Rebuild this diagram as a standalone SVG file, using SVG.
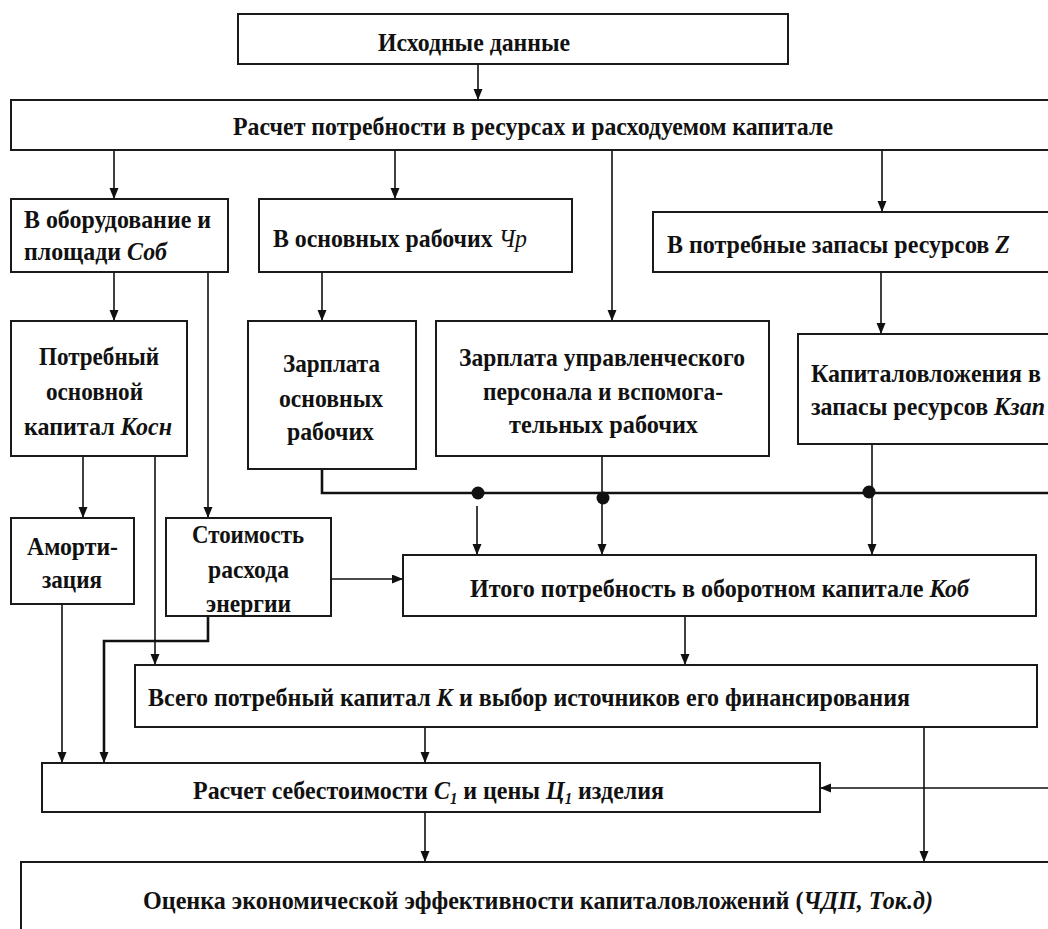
<svg xmlns="http://www.w3.org/2000/svg" width="1048" height="929" viewBox="0 0 1048 929">
<style>
.box{fill:#fff;stroke:#1a1a1a;stroke-width:2}
.t{font-family:"Liberation Serif","Times New Roman",serif;font-weight:bold;font-size:26px;fill:#111}
.i{font-style:italic}
.n{font-weight:normal}
.c{fill:none;stroke:#111;stroke-width:1.6}
.cb{fill:none;stroke:#111;stroke-width:2.6}
.dot{fill:#111}
</style>
<defs>
<marker id="ah" markerUnits="userSpaceOnUse" markerWidth="12" markerHeight="10" refX="11" refY="4.5" orient="auto">
<path d="M0,0 L11,4.5 L0,9 z" fill="#111"/>
</marker>
</defs>
<rect width="1048" height="929" fill="#fff"/>
<g id="connectors">
<line class="c" x1="478" y1="64" x2="478" y2="100" marker-end="url(#ah)"/>
<line class="c" x1="114" y1="150" x2="114" y2="199" marker-end="url(#ah)"/>
<line class="c" x1="395" y1="150" x2="395" y2="199" marker-end="url(#ah)"/>
<line class="c" x1="612" y1="150" x2="612" y2="321" marker-end="url(#ah)"/>
<line class="c" x1="882" y1="150" x2="882" y2="212" marker-end="url(#ah)"/>
<line class="c" x1="114" y1="272" x2="114" y2="321" marker-end="url(#ah)"/>
<line class="c" x1="208" y1="272" x2="208" y2="518" marker-end="url(#ah)"/>
<line class="c" x1="322" y1="261" x2="322" y2="321" marker-end="url(#ah)"/>
<line class="c" x1="881" y1="272" x2="881" y2="334" marker-end="url(#ah)"/>
<line class="c" x1="83" y1="456" x2="83" y2="518" marker-end="url(#ah)"/>
<line class="c" x1="155" y1="456" x2="155" y2="665" marker-end="url(#ah)"/>
<polyline class="cb" points="322,469 322,493 1048,493"/>
<line class="c" x1="602" y1="456" x2="602" y2="493"/>
<line class="c" x1="872" y1="437" x2="872" y2="493"/>
<circle class="dot" cx="478" cy="493" r="6.5"/>
<circle class="dot" cx="603" cy="498" r="6.5"/>
<circle class="dot" cx="869" cy="492" r="6.5"/>
<line class="c" x1="477" y1="506" x2="477" y2="555" marker-end="url(#ah)"/>
<line class="c" x1="602" y1="493" x2="602" y2="555" marker-end="url(#ah)"/>
<line class="c" x1="872" y1="493" x2="872" y2="555" marker-end="url(#ah)"/>
<line class="c" x1="331" y1="579" x2="403" y2="579" marker-end="url(#ah)"/>
<line class="c" x1="685" y1="616" x2="685" y2="665" marker-end="url(#ah)"/>
<line class="c" x1="62" y1="604" x2="62" y2="763" marker-end="url(#ah)"/>
<polyline class="cb" points="208,616 208,641 104,641 104,752"/>
<line class="c" x1="104" y1="750" x2="104" y2="763" marker-end="url(#ah)"/>
<line class="c" x1="425" y1="727" x2="425" y2="763" marker-end="url(#ah)"/>
<line class="c" x1="924" y1="727" x2="924" y2="862" marker-end="url(#ah)"/>
<line class="c" x1="1048" y1="788" x2="820" y2="788" marker-end="url(#ah)"/>
<line class="c" x1="425" y1="812" x2="425" y2="862" marker-end="url(#ah)"/>
</g>
<g id="n1"><rect class="box" x="238" y="14" width="550" height="50"/>
<text class="t" x="378" y="51" textLength="192" lengthAdjust="spacingAndGlyphs">Исходные данные</text></g>
<g id="n2"><rect class="box" x="11" y="100" width="1050" height="50"/>
<text class="t" x="233" y="135" textLength="600" lengthAdjust="spacingAndGlyphs">Расчет потребности в ресурсах и расходуемом капитале</text></g>
<g id="n3"><rect class="box" x="11" y="199" width="217" height="73"/>
<text class="t" x="24" y="228" textLength="187" lengthAdjust="spacingAndGlyphs">В оборудование и</text>
<text class="t" x="24" y="260" textLength="143" lengthAdjust="spacingAndGlyphs">площади <tspan class="i">Соб</tspan></text></g>
<g id="n4"><rect class="box" x="259" y="199" width="313" height="73"/>
<text class="t" x="273" y="247" textLength="254" lengthAdjust="spacingAndGlyphs">В основных рабочих <tspan class="i n">Чр</tspan></text></g>
<g id="n5"><rect class="box" x="653" y="212" width="410" height="60"/>
<text class="t" x="667" y="253" textLength="343" lengthAdjust="spacingAndGlyphs">В потребные запасы ресурсов <tspan class="i">Z</tspan></text></g>
<g id="n6"><rect class="box" x="11" y="321" width="176" height="135"/>
<text class="t" x="39" y="365" textLength="120" lengthAdjust="spacingAndGlyphs">Потребный</text>
<text class="t" x="46" y="400" textLength="97" lengthAdjust="spacingAndGlyphs">основной</text>
<text class="t" x="24" y="435" textLength="148" lengthAdjust="spacingAndGlyphs">капитал <tspan class="i">Косн</tspan></text></g>
<g id="n7"><rect class="box" x="248" y="321" width="168" height="148"/>
<text class="t" x="283" y="372" textLength="97" lengthAdjust="spacingAndGlyphs">Зарплата</text>
<text class="t" x="279" y="407" textLength="104" lengthAdjust="spacingAndGlyphs">основных</text>
<text class="t" x="287" y="440" textLength="87" lengthAdjust="spacingAndGlyphs">рабочих</text></g>
<g id="n8"><rect class="box" x="436" y="321" width="333" height="135"/>
<text class="t" x="459" y="366" textLength="286" lengthAdjust="spacingAndGlyphs">Зарплата управленческого</text>
<text class="t" x="483" y="400" textLength="240" lengthAdjust="spacingAndGlyphs">персонала и вспомога-</text>
<text class="t" x="509" y="433" textLength="189" lengthAdjust="spacingAndGlyphs">тельных рабочих</text></g>
<g id="n9"><rect class="box" x="798" y="334" width="265" height="110"/>
<text class="t" x="811" y="382" textLength="230" lengthAdjust="spacingAndGlyphs">Капиталовложения в</text>
<text class="t" x="811" y="415" textLength="234" lengthAdjust="spacingAndGlyphs">запасы ресурсов <tspan class="i">Кзап</tspan></text></g>
<g id="n10"><rect class="box" x="11" y="518" width="123" height="86"/>
<text class="t" x="27" y="555" textLength="91" lengthAdjust="spacingAndGlyphs">Аморти-</text>
<text class="t" x="42" y="588" textLength="60" lengthAdjust="spacingAndGlyphs">зация</text></g>
<g id="n11"><rect class="box" x="166" y="518" width="165" height="98"/>
<text class="t" x="192" y="543" textLength="112" lengthAdjust="spacingAndGlyphs">Стоимость</text>
<text class="t" x="208" y="578" textLength="81" lengthAdjust="spacingAndGlyphs">расхода</text>
<text class="t" x="206" y="612" textLength="85" lengthAdjust="spacingAndGlyphs">энергии</text></g>
<g id="n12"><rect class="box" x="403" y="555" width="633" height="61"/>
<text class="t" x="470" y="597" textLength="499" lengthAdjust="spacingAndGlyphs">Итого потребность в оборотном капитале <tspan class="i">Коб</tspan></text></g>
<g id="n13"><rect class="box" x="135" y="665" width="902" height="62"/>
<text class="t" x="148" y="706" textLength="762" lengthAdjust="spacingAndGlyphs">Всего потребный капитал <tspan class="i">К</tspan> и выбор источников его финансирования</text></g>
<g id="n14"><rect class="box" x="42" y="763" width="778" height="49"/>
<text class="t" x="193" y="799" textLength="471" lengthAdjust="spacingAndGlyphs">Расчет себестоимости <tspan class="i">С</tspan><tspan class="i" font-size="16" dy="5">1</tspan><tspan dy="-5"> и цены </tspan><tspan class="i">Ц</tspan><tspan class="i" font-size="16" dy="5">1</tspan><tspan dy="-5"> изделия</tspan></text></g>
<g id="n15"><rect class="box" x="21" y="862" width="1050" height="100"/>
<text class="t" x="143" y="909" textLength="790" lengthAdjust="spacingAndGlyphs">Оценка экономической эффективности капиталовложений (<tspan class="i">ЧДП, Ток.д)</tspan></text></g>
</svg>
